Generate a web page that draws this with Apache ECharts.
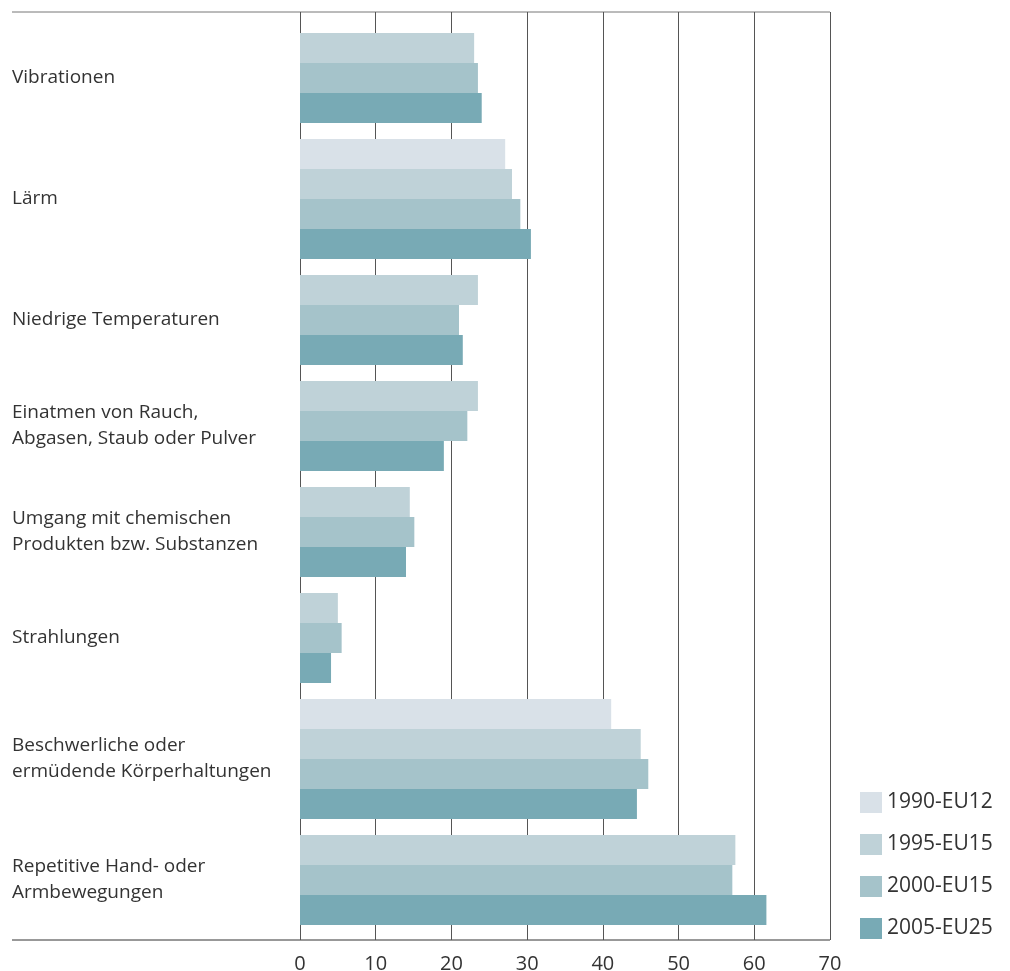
<!DOCTYPE html>
<html>
<head>
<meta charset="utf-8">
<script src="https://cdn.jsdelivr.net/npm/echarts@6/dist/echarts.min.js"></script>
<style>
  html, body { margin: 0; padding: 0; background: #fff; }
  #main { width: 1010px; height: 971px; }
</style>
</head>
<body>
<div id="main"></div>
<script>
var categories = [
    'Vibrationen',
    'Lärm',
    'Niedrige Temperaturen',
    'Einatmen von Rauch,\nAbgasen, Staub oder Pulver',
    'Umgang mit chemischen\nProdukten bzw. Substanzen',
    'Strahlungen',
    'Beschwerliche oder\nermüdende Körperhaltungen',
    'Repetitive Hand- oder\nArmbewegungen'
];
var years = ['1990-EU12', '1995-EU15', '2000-EU15', '2005-EU25'];
var v1990 = [null, 27.1, null, null, null, null, 41.1, null];
var v1995 = [23.0, 28.0, 23.5, 23.5, 14.5, 5.0, 45.0, 57.5];
var v2000 = [23.5, 29.1, 21.0, 22.1, 15.1, 5.5, 46.0, 57.1];
var v2005 = [24.0, 30.5, 21.5, 19.0, 14.0, 4.1, 44.5, 61.6];
var xTicks = [0, 10, 20, 30, 40, 50, 60, 70];

var colors = ['#d9e1e8', '#bfd2d8', '#a5c3ca', '#78aab5'];
var allValues = [v1990, v1995, v2000, v2005];

// bars are packed per group, missing years take no space
var groupGap = 16 / 30;
var topPad = 0.7;
var cursor = topPad;
var barPos = [[], [], [], []];
var groupCenter = [];
categories.forEach(function (c, ci) {
    var start = cursor;
    for (var s = 0; s < 4; s++) {
        if (allValues[s][ci] != null) {
            barPos[s].push([allValues[s][ci], cursor + 0.5]);
            cursor += 1;
        }
    }
    groupCenter.push([0, (start + cursor) / 2, c]);
    cursor += groupGap;
});
var yMax = cursor - groupGap + 0.5;

var chart = echarts.init(document.getElementById('main'));

function renderBar(params, api) {
    var start = api.coord([0, api.value(1)]);
    var end = api.coord([api.value(0), api.value(1)]);
    var h = api.size([0, 1])[1];
    return {
        type: 'rect',
        shape: { x: start[0], y: start[1] - h / 2, width: end[0] - start[0], height: h },
        style: api.style()
    };
}

var series = years.map(function (y, i) {
    return {
        name: y,
        type: 'custom',
        renderItem: renderBar,
        itemStyle: { color: colors[i] },
        encode: { x: 0, y: 1 },
        data: barPos[i]
    };
});

series.push({
    name: 'labels',
    type: 'custom',
    silent: true,
    renderItem: function (params, api) {
        var p = api.coord([0, api.value(1)]);
        return {
            type: 'text',
            x: params.coordSys.x - 288,
            y: p[1],
            style: {
                text: categories[params.dataIndex],
                fill: '#333',
                fontSize: 19,
                fontFamily: 'Open Sans',
                lineHeight: 26,
                align: 'left',
                verticalAlign: 'middle'
            }
        };
    },
    encode: { x: 0, y: 1 },
    data: groupCenter.map(function (g) { return [g[0], g[1]]; })
});

option = {
    animation: false,
    textStyle: { fontFamily: 'Open Sans' },
    grid: { left: 300, right: 180, top: 12, bottom: 31, outerBoundsMode: 'none', containLabel: false },
    legend: {
        data: years,
        orient: 'vertical',
        left: 855,
        top: 787,
        itemWidth: 22,
        itemHeight: 21,
        itemGap: 21,
        icon: 'rect',
        textStyle: { fontSize: 21, color: '#333' }
    },
    xAxis: {
        type: 'value',
        min: 0,
        max: 70,
        interval: 10,
        axisLine: { show: false },
        axisTick: { show: false },
        splitLine: { show: true, lineStyle: { color: '#555', width: 1 } },
        axisLabel: {
            fontSize: 20,
            color: '#333',
            margin: 14,
            formatter: function (v) { return xTicks.indexOf(v) >= 0 ? String(v) : ''; }
        }
    },
    yAxis: {
        type: 'value',
        inverse: true,
        min: 0,
        max: yMax,
        show: false
    },
    graphic: [
        { type: 'line', shape: { x1: 12, y1: 12, x2: 830, y2: 12 }, style: { stroke: '#777', lineWidth: 1 } },
        { type: 'line', shape: { x1: 12, y1: 940, x2: 830, y2: 940 }, style: { stroke: '#333', lineWidth: 1 } }
    ],
    series: series
};

chart.setOption(option);
</script>
</body>
</html>
